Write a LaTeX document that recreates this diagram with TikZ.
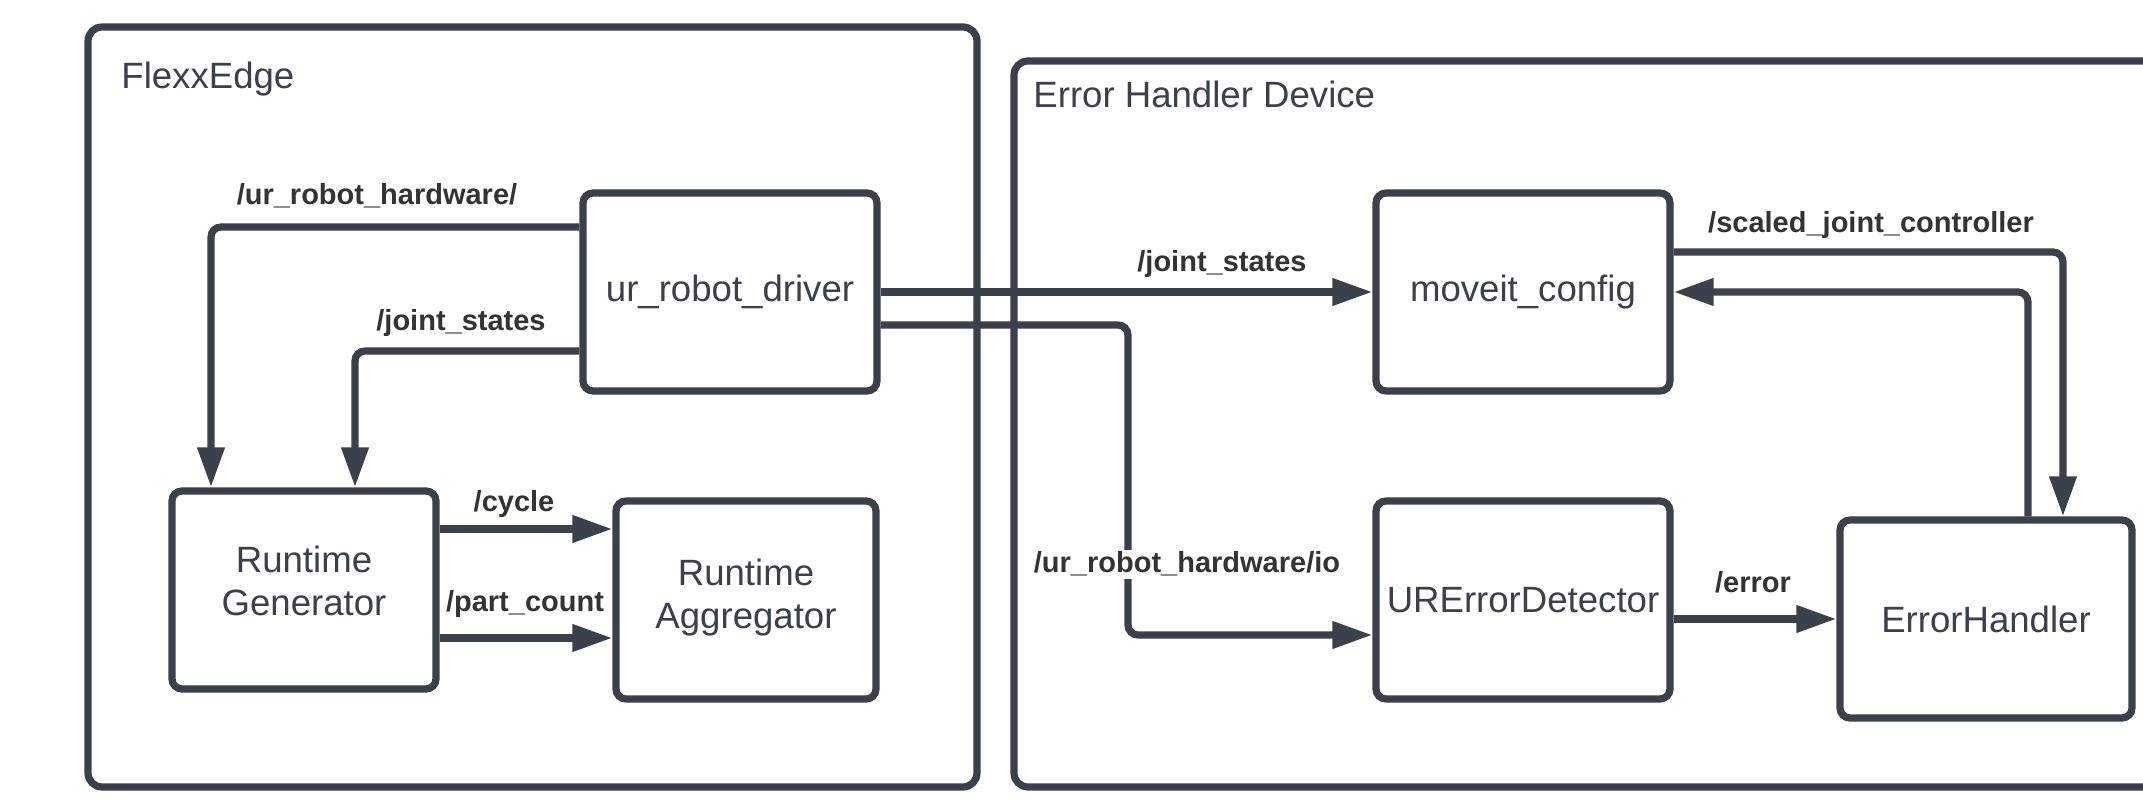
\documentclass[tikz,border=0pt]{standalone}
\usepackage{fontspec}
\setmainfont{Liberation Sans}
\usetikzlibrary{arrows.meta,positioning}

\definecolor{edgegray}{HTML}{3A414A}
\definecolor{labelgray}{HTML}{333333}

\tikzset{
  device/.style={draw=edgegray, line width=3.6pt, rounded corners=7pt},
  devtitle/.style={anchor=base west, inner sep=0pt, text=edgegray, font=\fontsize{18.3}{22}\selectfont},
  module/.style={draw=edgegray, line width=3.6pt, rounded corners=5pt, fill=white,
    minimum height=99pt, align=center, text=edgegray, font=\fontsize{18.3}{21.5}\selectfont},
  topic/.style={draw=edgegray, line width=3.6pt, rounded corners=5pt,
    -{Triangle[length=20pt,width=13pt]}},
  topiclabel/.style={anchor=base, inner sep=1pt, text=labelgray, font=\bfseries\fontsize{14.5}{17}\selectfont},
}

\begin{document}
\begin{tikzpicture}[x=0.5pt,y=-0.5pt]
  \useasboundingbox (0,0) rectangle (2143,806);

  % the two devices
  \draw[device] (88,27) rectangle (977,787);
  \draw[device] (1014,61) rectangle (2190,787);
  \node[devtitle] (flexxtitle) at (121,89) {FlexxEdge};
  \node[devtitle] (ehdtitle) at (1033,108) {Error Handler Device};

  % ros nodes
  \node[module, minimum width=147pt] (driver) at (730,292) {ur\_robot\_driver};
  \node[module, minimum width=147pt] (moveit) at (1523,292) {moveit\_config};
  \node[module, minimum width=132pt, text depth=9pt] (rtgen) at (304,590) {Runtime\\Generator};
  \node[module, minimum width=130pt, text depth=6pt] (rtagg) at (746,600) {Runtime\\Aggregator};
  \node[module, minimum width=147pt] (urerr) at (1523,600) {URErrorDetector};
  \node[module, minimum width=146pt] (errhandler) at (1986,619) {ErrorHandler};

  % bend points of the topic lines
  \coordinate (hwbend) at (211,227);
  \coordinate (jsbend) at (355,351);
  \coordinate (iotop) at (1128,325);
  \coordinate (iobottom) at (1128,635);
  \coordinate (scaledbend) at (2063,252);
  \coordinate (returnbend) at (2028,292);
  \coordinate (cycley) at (0,529);
  \coordinate (party) at (0,638);

  % topics inside FlexxEdge
  \draw[topic] (hwbend -| driver.west) -- (hwbend) -- (hwbend |- rtgen.north);
  \draw[topic] (jsbend -| driver.west) -- (jsbend) -- (jsbend |- rtgen.north);
  \draw[topic] (cycley -| rtgen.east) -- (cycley -| rtagg.west);
  \draw[topic] (party -| rtgen.east) -- (party -| rtagg.west);

  % topics to the error handler device
  \draw[topic] (driver.east) -- (moveit.west);
  \draw[topic] (iotop -| driver.east) -- (iotop) -- (iobottom) -- (iobottom -| urerr.west);
  \draw[topic] (scaledbend -| moveit.east) -- (scaledbend) -- (scaledbend |- errhandler.north);
  \draw[topic] (returnbend |- errhandler.north) -- (returnbend) -- (returnbend -| moveit.east);
  \draw[topic] (urerr.east |- errhandler.west) -- (errhandler.west);

  % topic names
  \node[topiclabel] (hwlabel) at (377,205) {/ur\_robot\_hardware/};
  \node[topiclabel] (jsleftlabel) at (461,331) {/joint\_states};
  \node[topiclabel] (jsrightlabel) at (1222,272) {/joint\_states};
  \node[topiclabel] (scaledlabel) at (1871,233) {/scaled\_joint\_controller};
  \node[topiclabel] (cyclelabel) at (514,512) {/cycle};
  \node[topiclabel] (partlabel) at (525,612) {/part\_count};
  \node[topiclabel] (errorlabel) at (1753,593) {/error};
  \node[topiclabel, fill=white] (iolabel) at (1187,573) {/ur\_robot\_hardware/io};
\end{tikzpicture}
\end{document}
